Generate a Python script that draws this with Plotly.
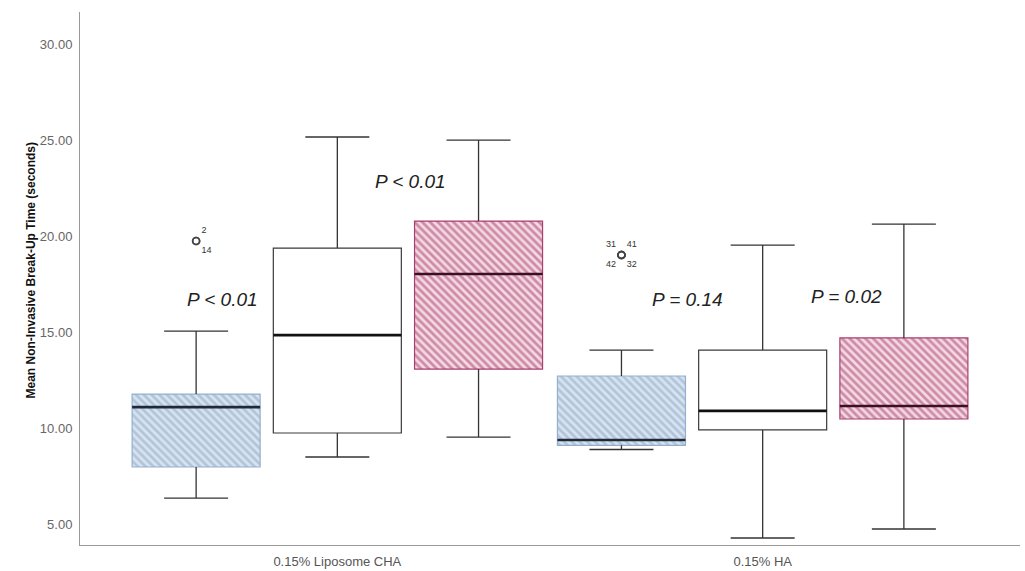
import plotly.graph_objects as go

# ---------------- data ----------------
groups = ["0.15% Liposome CHA", "0.15% HA"]
series = ["Series 1", "Series 2", "Series 3"]

# five-number summaries per series, per group
blue_upper = [15.05, 14.06]
blue_q3 = [11.77, 12.71]
blue_median = [11.09, 9.375]
blue_q1 = [7.97, 9.10]
blue_lower = [6.35, 8.88]

white_upper = [25.16, 19.53]
white_q3 = [19.375, 14.06]
white_median = [14.84, 10.89]
white_q1 = [9.74, 9.90]
white_lower = [8.49, 4.27]

mag_upper = [25.0, 20.625]
mag_q3 = [20.78, 14.69]
mag_median = [18.02, 11.15]
mag_q1 = [13.07, 10.47]
mag_lower = [9.53, 4.74]

# outliers (blue series only)
out_group = [0, 0, 1, 1, 1, 1]
out_values = [19.74, 19.74, 19.01, 19.01, 19.01, 19.01]
out_labels = ["2", "14", "31", "41", "42", "32"]
out_textpos = ["top right", "bottom right", "top left", "top right", "bottom left", "bottom right"]

p_texts = ["P < 0.01", "P < 0.01", "P = 0.14", "P = 0.02"]
p_x = [-0.27, 0.172, 0.824, 1.198]
p_y = [16.67, 22.86, 16.72, 16.875]

ytick_vals = [5, 10, 15, 20, 25, 30]

# ---------------- styles ----------------
offsets = [-0.332, 0.0, 0.332]
box_w = 0.301
cap_w = box_w / 2

styles = [
    dict(fg="#88a7c6", bg="#d8e3ef", line="#93afcd", med="#1e2a3a"),
    dict(fg="#ffffff", bg="#ffffff", line="#3a3a3a", med="#111111"),
    dict(fg="#a63e6a", bg="#f4d8e3", line="#a8406c", med="#3a0f22"),
]

data = [
    (blue_upper, blue_q3, blue_median, blue_q1, blue_lower),
    (white_upper, white_q3, white_median, white_q1, white_lower),
    (mag_upper, mag_q3, mag_median, mag_q1, mag_lower),
]

fig = go.Figure()

for si, (upper, q3, med, q1, lower) in enumerate(data):
    st = styles[si]
    xs = [gi + offsets[si] for gi in range(len(groups))]
    # box body
    pattern = dict(shape="\\", fgcolor=st["fg"], bgcolor=st["bg"], size=5.5, solidity=0.5)
    if si == 1:
        pattern = dict(shape="", bgcolor="#ffffff")
    fig.add_trace(go.Bar(
        x=xs, base=q1, y=[a - b for a, b in zip(q3, q1)], width=box_w,
        marker=dict(color=st["bg"], pattern=pattern, line=dict(color=st["line"], width=1.2)),
        name=series[si], showlegend=False, hoverinfo="skip",
    ))
    # whiskers and caps
    wx, wy = [], []
    for x, u, a, b, l in zip(xs, upper, q3, q1, lower):
        wx += [x, x, None, x, x, None, x - cap_w / 2, x + cap_w / 2, None, x - cap_w / 2, x + cap_w / 2, None]
        wy += [a, u, None, b, l, None, u, u, None, l, l, None]
    fig.add_trace(go.Scatter(x=wx, y=wy, mode="lines", line=dict(color="#333333", width=1.3),
                             showlegend=False, hoverinfo="skip"))
    # medians
    mx, my = [], []
    for x, m in zip(xs, med):
        mx += [x - box_w / 2, x + box_w / 2, None]
        my += [m, m, None]
    fig.add_trace(go.Scatter(x=mx, y=my, mode="lines", line=dict(color=st["med"], width=2.6),
                             showlegend=False, hoverinfo="skip"))

# outliers
fig.add_trace(go.Scatter(
    x=[g + offsets[0] for g in out_group], y=out_values, mode="markers+text",
    marker=dict(symbol="circle-open", size=7, color="#444444", line=dict(width=1.6)),
    text=out_labels, textposition=out_textpos,
    textfont=dict(family="Liberation Sans", size=9, color="#333333"),
    showlegend=False, hoverinfo="skip",
))

for t, x, y in zip(p_texts, p_x, p_y):
    fig.add_annotation(x=x, y=y, text="<i>" + t + "</i>", showarrow=False,
                       font=dict(family="Liberation Sans", size=19, color="#222222"))

fig.add_annotation(xref="paper", yref="paper", x=0, y=0.515, xshift=-58,
                   text="<b>Mean Non-Invasive Break-Up Time (seconds)</b>", textangle=-90,
                   showarrow=False, font=dict(family="Liberation Sans", size=12, color="#111111"))

fig.update_layout(
    width=1025, height=571,
    margin=dict(l=80, r=5, t=12, b=26),
    paper_bgcolor="white", plot_bgcolor="white",
    barmode="overlay",
    xaxis=dict(range=[-0.605, 1.605], tickvals=list(range(len(groups))), ticktext=groups,
               showgrid=False, zeroline=False, showline=True, linecolor="#999999", linewidth=1,
               ticks="outside", ticklen=4, tickcolor="rgba(0,0,0,0)", automargin=False,
               tickfont=dict(family="Liberation Sans", size=13, color="#555555")),
    yaxis=dict(range=[3.906, 31.67], tickvals=ytick_vals, tickformat=".2f",
               showgrid=False, zeroline=False, showline=True, linecolor="#999999", linewidth=1,
               ticks="outside", ticklen=4, tickcolor="rgba(0,0,0,0)", automargin=False,
               tickfont=dict(family="Liberation Sans", size=13, color="#666666")),
)

fig.write_html("out.html", config={"displayModeBar": False},
               post_script="document.body.style.margin='0';document.body.style.overflow='hidden';")
